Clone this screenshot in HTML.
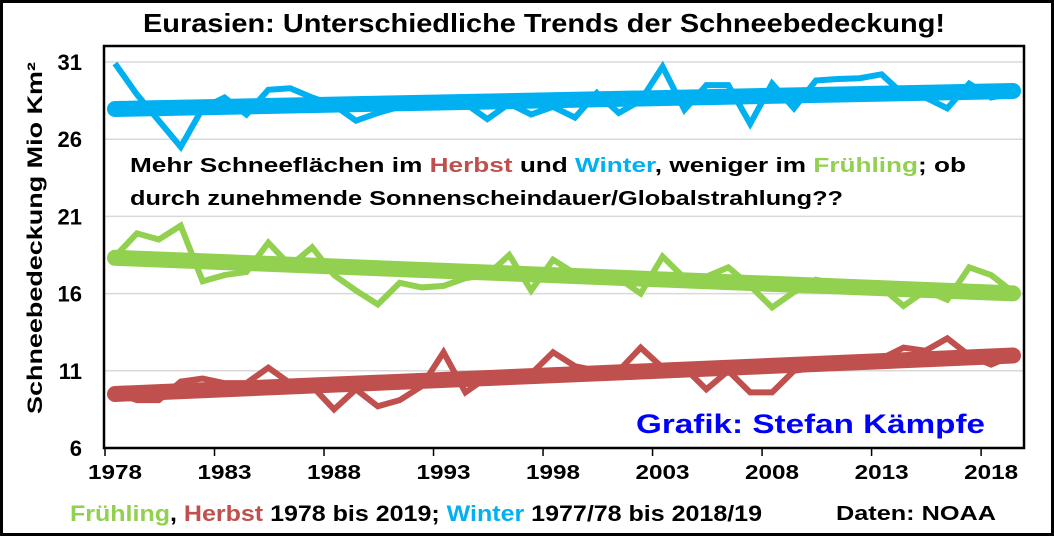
<!DOCTYPE html>
<html><head><meta charset="utf-8"><style>
body{margin:0;background:#fff;}
svg{display:block;font-family:"Liberation Sans",Arial,sans-serif;font-weight:bold;}
</style></head><body>
<svg id="chart" width="1054" height="536" viewBox="0 0 1054 536">
<rect x="1.5" y="1.5" width="1051" height="533" fill="#fff" stroke="#000" stroke-width="3"/>
<text x="143" y="32" font-size="26" textLength="802" lengthAdjust="spacingAndGlyphs">Eurasien: Unterschiedliche Trends der Schneebedeckung!</text>
<g id="grid"></g>
<g id="yticks"></g>
<g id="xticks"></g>
<rect x="104" y="46" width="920" height="402" fill="none" stroke="#000" stroke-width="2.5"/>
<text transform="translate(42,238) rotate(-90)" text-anchor="middle" font-size="21" textLength="352" lengthAdjust="spacingAndGlyphs">Schneebedeckung Mio Km²</text>
<g id="series"></g>
<text x="130" y="172" font-size="20" textLength="836" lengthAdjust="spacingAndGlyphs">Mehr Schneeflächen im <tspan fill="#C0504D">Herbst</tspan> und <tspan fill="#00B0F0">Winter</tspan>, weniger im <tspan fill="#92D050">Frühling</tspan>; ob</text>
<text x="130" y="205" font-size="20" textLength="713" lengthAdjust="spacingAndGlyphs">durch zunehmende Sonnenscheindauer/Globalstrahlung??</text>
<text x="636" y="433" font-size="27" fill="#0000FF" textLength="349" lengthAdjust="spacingAndGlyphs">Grafik: Stefan Kämpfe</text>
<text x="70" y="521" font-size="22" textLength="692" lengthAdjust="spacingAndGlyphs"><tspan fill="#92D050">Frühling</tspan>, <tspan fill="#C0504D">Herbst</tspan> 1978 bis 2019; <tspan fill="#00B0F0">Winter</tspan> 1977/78 bis 2018/19</text>
<text x="836" y="520" font-size="20" textLength="160" lengthAdjust="spacingAndGlyphs">Daten: NOAA</text>
</svg>
<script>
const years = [];
for (let y = 1978; y <= 2019; y++) years.push(y);
const yTicks = [6, 11, 16, 21, 26, 31];
const xTicks = [1978, 1983, 1988, 1993, 1998, 2003, 2008, 2013, 2018];
const winter = [30.9,28.9,27.2,25.5,28.0,28.7,27.6,29.2,29.3,28.7,28.2,27.2,27.7,28.1,28.1,28.2,28.3,27.3,28.3,27.6,28.1,27.4,29.0,27.7,28.5,30.7,27.9,29.5,29.5,27.0,29.6,28.0,29.8,29.9,29.95,30.2,28.9,28.7,28.0,29.6,28.7,29.0];
const spring = [18.4,19.9,19.5,20.4,16.8,17.2,17.4,19.3,17.8,19.0,17.2,16.2,15.3,16.7,16.4,16.5,17.0,17.2,18.5,16.2,18.2,17.3,17.3,17.0,16.0,18.4,17.0,17.1,17.7,16.5,15.1,16.1,16.9,16.6,16.5,16.4,15.2,16.2,15.6,17.7,17.2,16.1];
const autumn = [9.6,9.1,9.1,10.3,10.5,10.2,10.2,11.2,10.2,10.0,8.5,9.8,8.7,9.1,10.0,12.2,9.6,10.6,10.7,10.8,12.2,11.3,11.0,11.0,12.5,11.2,11.2,9.8,11.0,9.6,9.6,11.0,11.2,11.5,11.6,11.8,12.5,12.3,13.1,12.0,11.4,12.0];
const NS = "http://www.w3.org/2000/svg";
const X = yr => 115 + (yr - 1978) * (1013 - 115) / 41;
const Y = v => 448 - (v - 6) * (448 - 62) / 25;
function mk(tag, attrs, parent){const e=document.createElementNS(NS,tag);for(const k in attrs)e.setAttribute(k,attrs[k]);parent.appendChild(e);return e;}
const grid=document.getElementById('grid'), yt=document.getElementById('yticks'), xt=document.getElementById('xticks'), sg=document.getElementById('series');
yTicks.forEach(v=>{
  if(v>6){const l=mk('line',{x1:104,x2:1024,y1:Y(v),y2:Y(v),stroke:'#d9d9d9','stroke-width':1.5},grid);
  
  }
  const t=mk('text',{x:82,y:Y(v)+8,'text-anchor':'end','font-size':22},yt);
  t.textContent=v;
  
  
});
xTicks.forEach(v=>{
  const m=mk('line',{x1:X(v)-10,x2:X(v)-10,y1:448,y2:456,stroke:'#000','stroke-width':1.5},xt);
  
  
  const t=mk('text',{x:X(v),y:479,'text-anchor':'middle','font-size':20,textLength:54,lengthAdjust:'spacingAndGlyphs'},xt);
  t.textContent=v;
  
  
});
function trend(vals){const n=vals.length;let sx=0,sy=0,sxy=0,sxx=0;years.forEach((x,i)=>{sx+=x;sy+=vals[i];sxy+=x*vals[i];sxx+=x*x;});const b=(n*sxy-sx*sy)/(n*sxx-sx*sx);const a=(sy-b*sx)/n;return x=>a+b*x;}
function draw(vals,color,name){
  const f=trend(vals);
  const p=mk('polyline',{points:years.map((y,i)=>X(y)+','+Y(vals[i])).join(' '),fill:'none',stroke:color,'stroke-width':6,'stroke-linejoin':'miter'},sg);
  
  
  const t=mk('line',{x1:X(1978),y1:Y(f(1978)),x2:X(2019),y2:Y(f(2019)),stroke:color,'stroke-width':16,'stroke-linecap':'round'},sg);
  
  
}
draw(autumn,'#C0504D','autumn');
draw(spring,'#92D050','spring');
draw(winter,'#00B0F0','winter');
</script>
</body></html>
